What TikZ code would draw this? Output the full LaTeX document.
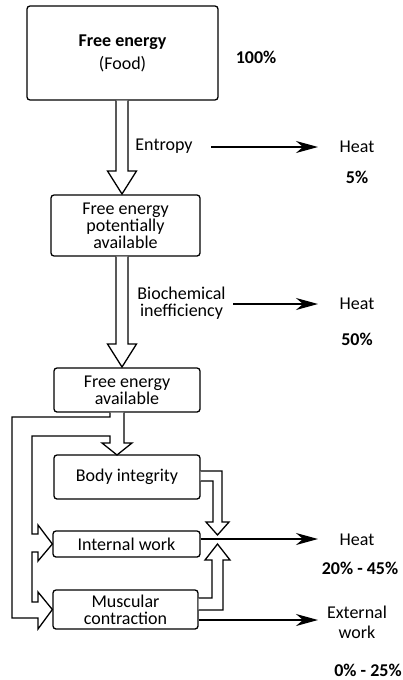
\documentclass[tikz,border=0pt]{standalone}
\usepackage{fontspec}
\setmainfont{Carlito}
\usetikzlibrary{arrows.meta}
\begin{document}
\begin{tikzpicture}[x=1pt,y=-1pt,
  txt/.style={inner sep=0pt, align=center, font=\fontsize{18}{17}\selectfont},
  box/.style={txt, draw, line width=1.3pt, rounded corners=3pt},
  pct/.style={txt, font=\fontsize{18}{17}\selectfont\bfseries},
  hollow/.style={draw, fill=white, line width=1.3pt, line join=miter},
  flow/.style={line width=1.6pt, -{Stealth[length=22pt,width=12pt,inset=7pt]}}]
\useasboundingbox (0,0) rectangle (402,680);
\fill[white] (0,0) rectangle (402,680);

% boxes
\node[box, minimum width=191pt, minimum height=94pt] (food) at (122.5,53) {\textbf{Free energy}\\[6pt](Food)};
\node[box, minimum width=149pt, minimum height=61pt] (pot) at (125.5,225.5) {Free energy\\potentially\\available};
\node[box, minimum width=146pt, minimum height=44pt] (avail) at (127,390) {Free energy\\available};
\node[box, minimum width=146pt, minimum height=44pt] (body) at (127,477) {Body integrity};
\node[box, minimum width=147pt, minimum height=26pt] (iw) at (126.5,544) {Internal work};
\node[box, minimum width=145pt, minimum height=39pt] (mc) at (125.5,609.5) {Muscular\\contraction};

% labels
\node[pct] (p100) at (256,57) {100\%};
\node[txt] (entropy) at (164,146) {Entropy};
\node[txt] (heat1) at (357,147) {Heat};
\node[pct] (p5) at (357,177) {5\%};
\node[txt] (bio) at (181.5,303.5) {Biochemical\\inefficiency};
\node[txt] (heat2) at (357,304) {Heat};
\node[pct] (p50) at (357,339) {50\%};
\node[txt] (heat3) at (357,540) {Heat};
\node[pct] (p2045) at (360,568) {20\% - 45\%};
\node[txt] (ext) at (357,622) {External\\[3pt]work};
\node[pct] (p025) at (368,670) {0\% - 25\%};

% hollow arrows
\draw[hollow] (food.south -| 116,0) -- (116,171) -- (107.5,171) -- (122,194) -- (136.5,171) -- (128,171) -- (food.south -| 128,0);
\draw[hollow] (pot.south -| 116,0) -- (116,344) -- (107.5,344) -- (122,367) -- (136.5,344) -- (128,344) -- (pot.south -| 128,0);
\draw[hollow] (avail.south -| 110,0) -- (110,417) -- (12,417) -- (12,618) -- (38,618) -- (38,629) -- (mc.west) -- (38,592) -- (38,602) -- (32,602) -- (32,552) -- (38,552) -- (38,561) -- (iw.west) -- (38,525) -- (38,534) -- (32,534) -- (32,436) -- (110,436) -- (110,443) -- (102,443) -- (117,455) -- (132,443) -- (124,443) -- (avail.south -| 124,0);
\draw[hollow] (body.east |- 0,471) -- (222,471) -- (222,522) -- (229,522) -- (217.5,535) -- (206,522) -- (213,522) -- (213,481) -- (body.east |- 0,481);
\draw[hollow] (mc.east |- 0,598) -- (212,598) -- (212,560) -- (205,560) -- (217.5,544) -- (230,560) -- (223,560) -- (223,610) -- (mc.east |- 0,610);

% thin arrows
\coordinate (e1s) at (211,147);
\coordinate (e1e) at (318,147);
\coordinate (e2s) at (233,304);
\coordinate (e2e) at (318,304);
\coordinate (e3e) at (318,539);
\coordinate (e4e) at (318,620);
\draw[flow] (e1s) -- (e1e);
\draw[flow] (e2s) -- (e2e);
\draw[flow] ([yshift=5pt]iw.east) -- (e3e);
\draw[flow] ([yshift=-10.5pt]mc.east) -- (e4e);
\end{tikzpicture}
\end{document}
